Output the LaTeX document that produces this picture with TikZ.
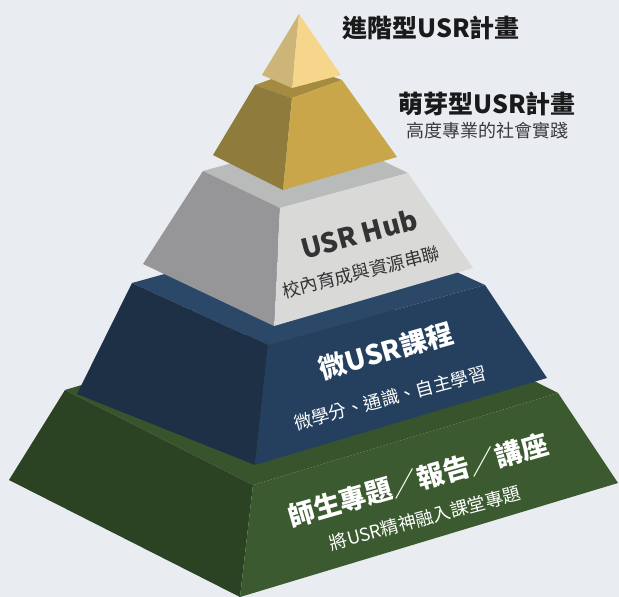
\documentclass[tikz,border=0pt]{standalone}
\usepackage{fontspec}
\usepackage{tikz}
\usetikzlibrary{positioning}
\newfontfamily\cjk{Noto Sans CJK TC}
\definecolor{bgcol}{HTML}{E9EDF2}
\definecolor{apexleft}{HTML}{CDB478}
\definecolor{apexright}{HTML}{F6D68A}
\definecolor{goldtop}{HTML}{A48B40}
\definecolor{goldleft}{HTML}{8F7B3B}
\definecolor{goldright}{HTML}{C8A649}
\definecolor{graytop}{HTML}{B9BBBA}
\definecolor{grayleft}{HTML}{969698}
\definecolor{grayright}{HTML}{D9D9D8}
\definecolor{navytop}{HTML}{2B4868}
\definecolor{navyleft}{HTML}{1D3046}
\definecolor{navyright}{HTML}{25405E}
\definecolor{greentop}{HTML}{37542D}
\definecolor{greenleft}{HTML}{2B4322}
\definecolor{greenright}{HTML}{3B5A2F}
\definecolor{titlecol}{HTML}{1A1A1A}
\definecolor{subcol}{HTML}{3A3A3A}
\definecolor{hubtext}{HTML}{333333}

\begin{document}
\begin{tikzpicture}[x=1pt,y=-1pt,
    title/.style={font=\cjk\bfseries\fontsize{25}{28}\selectfont,text=titlecol,inner sep=0pt},
    subtitle/.style={font=\cjk\fontsize{18}{21}\selectfont,text=subcol,inner sep=0pt},
    facetitle/.style={font=\cjk\bfseries\fontsize{27}{30}\selectfont,inner sep=0pt},
    facesub/.style={font=\cjk\fontsize{18}{21}\selectfont,inner sep=0pt}]
      \fill[bgcol] (0,0) rectangle (619,597);
      \useasboundingbox (0,0) rectangle (619,597);

      % base tier
      \fill[greentop] (65,390) -- (253,485) -- (558,393) -- (370,298) -- cycle;
      \fill[greenleft] (65,390) -- (253,485) -- (240,597) -- (9,480) -- cycle;
      \fill[greenright] (253,485) -- (558,393) -- (618,483) -- (240,597) -- cycle;

      % second tier
      \fill[navytop] (132,283) -- (268,345) -- (485,285) -- (349,223) -- cycle;
      \fill[navyleft] (132,283) -- (268,345) -- (255,465) -- (77,394) -- cycle;
      \fill[navyright] (268,345) -- (485,285) -- (547,378) -- (255,465) -- cycle;

      % hub tier
      \fill[graytop] (203,171) -- (280,208) -- (408,173) -- (331,136) -- cycle;
      \fill[grayleft] (203,171) -- (280,208) -- (274,326) -- (143,264) -- cycle;
      \fill[grayright] (280,208) -- (408,173) -- (473,268) -- (274,326) -- cycle;

      % gold tier
      \fill[goldtop] (255,85) -- (292,98) -- (342,80) -- (305,67) -- cycle;
      \fill[goldleft] (255,85) -- (292,98) -- (283,190) -- (213,155) -- cycle;
      \fill[goldright] (292,98) -- (342,80) -- (397,157) -- (283,190) -- cycle;

      % apex
      \fill[apexleft] (299,14) -- (292,88) -- (262,75) -- cycle;
      \fill[apexright] (299,14) -- (341,75) -- (292,88) -- cycle;

      \node[title] (advanced) at (431,28) {進階型USR計畫};
      \node[title] (sprout) at (487,104) {萌芽型USR計畫};
      \node[subtitle] (sproutsub) at (487,131) {高度專業的社會實踐};

      \node[facetitle,text=hubtext,rotate=15] (hub) at (359,234) {USR Hub};
      \node[facesub,text=hubtext,rotate=14] (hubsub) at (361,272) {校內育成與資源串聯};

      \node[facetitle,text=white,rotate=16] (micro) at (386,351) {微USR課程};
      \node[facesub,text=white,rotate=15] (microsub) at (390,398) {微學分、通識、自主學習};

      \node[facetitle,text=white,rotate=16] (project) at (418,480) {師生專題{\mdseries ／}報告{\mdseries ／}講座};
      \node[facesub,text=white,rotate=15] (projectsub) at (425,518) {將USR精神融入課堂專題};
    \end{tikzpicture}
\end{document}
